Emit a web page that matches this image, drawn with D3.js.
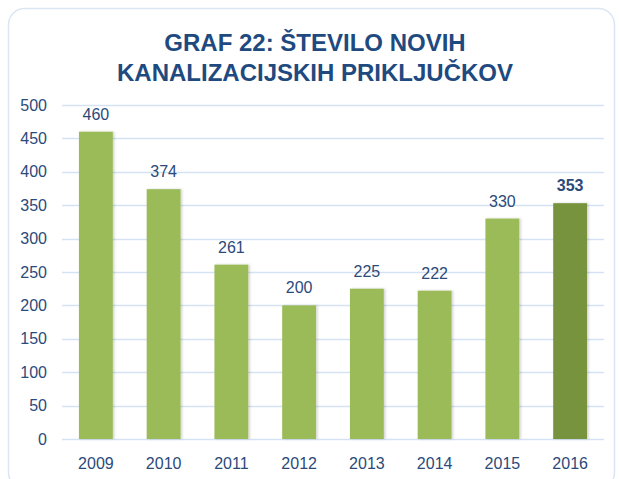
<!DOCTYPE html>
<html>
<head>
<meta charset="utf-8">
<script src="https://cdn.jsdelivr.net/npm/d3@7"></script>
<style>
  body { margin: 0; background: #fff; }
  svg { display: block; font-family: 'Liberation Sans', Arial, sans-serif; }
</style>
</head>
<body>
<svg id="chart" width="619" height="479"></svg>
<script>
const years = ['2009', '2010', '2011', '2012', '2013', '2014', '2015', '2016'];
const counts = [460, 374, 261, 200, 225, 222, 330, 353];
const yTicks = [0, 50, 100, 150, 200, 250, 300, 350, 400, 450, 500];
const titleLines = ['GRAF 22: ŠTEVILO NOVIH', 'KANALIZACIJSKIH PRIKLJUČKOV'];

const width = 619;
const height = 479;
const margin = { top: 105, right: 15, bottom: 40, left: 62 };
const textColor = '#2b4a7a';

let svg = d3.select('#chart');

// rounded frame
svg.append('rect')
  .attr('x', 8.5)
  .attr('y', 8.5)
  .attr('width', 606)
  .attr('height', 480)
  .attr('rx', 16)
  .style('fill', 'none')
  .style('stroke', '#dbe6f4')
  .style('stroke-width', 1.5);

svg.selectAll('.title')
  .data(titleLines)
  .enter()
  .append('text')
  .attr('class', 'title')
  .attr('x', 315)
  .attr('y', function (d, i) { return 51 + i * 30; })
  .style('text-anchor', 'middle')
  .style('font-size', '24px')
  .style('font-weight', 'bold')
  .style('fill', '#1f4a80')
  .text(function (d) { return d; });

let x = d3.scaleBand()
  .domain(years)
  .range([margin.left, width - margin.right])
  .paddingInner(0.5)
  .paddingOuter(0.25);

let y = d3.scaleLinear()
  .domain([0, 500])
  .range([height - margin.bottom, margin.top]);

// gridlines
svg.append('g')
  .selectAll('line')
  .data(yTicks)
  .enter()
  .append('line')
  .attr('x1', margin.left)
  .attr('x2', width - margin.right)
  .attr('y1', function (d) { return Math.round(y(d)) + 0.5; })
  .attr('y2', function (d) { return Math.round(y(d)) + 0.5; })
  .style('stroke', '#d5e2f3')
  .style('stroke-width', 1.5);

let yAxis = svg.append('g')
  .attr('transform', 'translate(' + (margin.left - 15) + ',0)')
  .call(d3.axisLeft(y).tickValues(yTicks).tickSize(0).tickPadding(0));
yAxis.select('.domain').remove();
yAxis.selectAll('text')
  .style('font-size', '16px')
  .style('font-family', "'Liberation Sans', Arial, sans-serif")
  .style('fill', textColor);

let xAxis = svg.append('g')
  .attr('transform', 'translate(0,' + (height - margin.bottom) + ')')
  .call(d3.axisBottom(x).tickSize(0).tickPadding(19));
xAxis.select('.domain').remove();
xAxis.selectAll('text')
  .style('font-size', '16px')
  .style('font-family', "'Liberation Sans Narrow', 'Liberation Sans', Arial, sans-serif")
  .style('fill', textColor);

let defs = svg.append('defs');
let shadow = defs.append('filter')
  .attr('id', 'shadow')
  .attr('x', '-20%').attr('y', '-5%')
  .attr('width', '150%').attr('height', '110%');
shadow.append('feDropShadow')
  .attr('dx', 1.5).attr('dy', 0)
  .attr('stdDeviation', 1.2)
  .attr('flood-color', '#000')
  .attr('flood-opacity', 0.18);

let last = years.length - 1;

svg.append('g')
  .selectAll('rect')
  .data(counts)
  .enter()
  .append('rect')
  .attr('x', function (d, i) { return x(years[i]); })
  .attr('y', function (d) { return y(d); })
  .attr('width', x.bandwidth())
  .attr('height', function (d) { return y(0) - y(d); })
  .attr('filter', 'url(#shadow)')
  .style('fill', function (d, i) { return i === last ? '#77933c' : '#9bbb59'; });

svg.append('g')
  .selectAll('text')
  .data(counts)
  .enter()
  .append('text')
  .attr('x', function (d, i) { return x(years[i]) + x.bandwidth() / 2; })
  .attr('y', function (d) { return y(d) - 12; })
  .style('text-anchor', 'middle')
  .style('font-size', '16px')
  .style('font-weight', function (d, i) { return i === last ? 'bold' : 'normal'; })
  .style('fill', textColor)
  .text(function (d) { return d; });
</script>
</body>
</html>
